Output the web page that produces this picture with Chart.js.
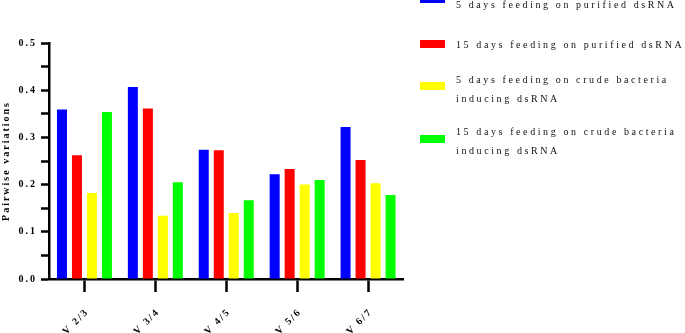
<!DOCTYPE html>
<html>
<head>
<meta charset="utf-8">
<script src="https://cdn.jsdelivr.net/npm/chart.js@4.4.1/dist/chart.umd.min.js"></script>
<style>
  html, body { margin: 0; padding: 0; background: #fff; }
  #wrap { position: relative; width: 685px; height: 333px; overflow: hidden; }
  #chart { position: absolute; left: 0; top: 0; }
  .item { position: absolute; left: 420px; }
  .swatch { position: absolute; left: 0; width: 25px; height: 8px; }
  .label {
    position: absolute; left: 36px; white-space: nowrap;
    font: 10px "Liberation Serif", "Times New Roman", serif;
    letter-spacing: 2.6px; line-height: 19px; color: #111;
  }
</style>
</head>
<body>
<div id="wrap">
  <canvas id="chart" width="685" height="333"></canvas>
  <div id="legend"></div>
</div>
<script>
// categories + series
const categories = ["V 2/3", "V 3/4", "V 4/5", "V 5/6", "V 6/7"];
const seriesNames = [
  ["5 days feeding on purified dsRNA"],
  ["15 days feeding on purified dsRNA"],
  ["5 days feeding on crude bacteria", "inducing dsRNA"],
  ["15 days feeding on crude bacteria", "inducing dsRNA"]
];
const purified5  = [0.359, 0.407, 0.274, 0.222, 0.322];
const purified15 = [0.262, 0.361, 0.273, 0.233, 0.252];
const crude5     = [0.182, 0.134, 0.140, 0.200, 0.203];
const crude15    = [0.354, 0.205, 0.167, 0.210, 0.178];
const seriesColors = ["#0000ff", "#ff0000", "#ffff00", "#00ff00"];
const yTitle = "Pairwise variations";

const allSeries = [purified5, purified15, crude5, crude15];

// legend (html, so the wrapped labels are easy)
const legendTops  = [-5, 35, 70, 122];
const swatchTops  = [0, 4.5, 12, 12.5];
const legendEl = document.getElementById("legend");
seriesNames.forEach((lines, i) => {
  const item = document.createElement("div");
  item.className = "item";
  item.style.top = legendTops[i] + "px";
  item.innerHTML =
    `<div class="swatch" style="top:${swatchTops[i]}px;background:${seriesColors[i]}"></div>` +
    `<div class="label">${lines.join("<br>")}</div>`;
  legendEl.appendChild(item);
});

// spaced-out lettering like the original export
const spacing = {
  id: "spacing",
  beforeUpdate(chart) { chart.ctx.letterSpacing = "2px"; },
  beforeDraw(chart)   { chart.ctx.letterSpacing = "2px"; }
};

const tickFont = { family: "'Liberation Serif', 'Times New Roman', serif", size: 10, weight: "bold" };

new Chart(document.getElementById("chart"), {
  type: "bar",
  data: {
    labels: categories,
    datasets: allSeries.map((vals, i) => ({
      label: seriesNames[i].join(" "),
      data: vals,
      backgroundColor: seriesColors[i],
      borderWidth: 0,
      categoryPercentage: 0.846,
      barPercentage: 0.667
    }))
  },
  options: {
    responsive: false,
    animation: false,
    devicePixelRatio: 1,
    layout: { padding: { top: 43, right: 281.5, left: 0, bottom: 0 } },
    plugins: { legend: { display: false }, tooltip: { enabled: false } },
    scales: {
      x: {
        grid: { offset: false, drawOnChartArea: false, color: "#000", tickLength: 13, tickWidth: 2.5 },
        border: { color: "#000", width: 2.5 },
        ticks: {
          color: "#000", font: tickFont,
          minRotation: 45, maxRotation: 45, padding: 14, labelOffset: 3
        },
        afterFit(scale) { scale.height = 54; }
      },
      y: {
        min: 0, max: 0.5,
        grid: { drawOnChartArea: false, color: "#000", tickLength: 8, tickWidth: 2.5 },
        border: { color: "#000", width: 2.5 },
        ticks: {
          stepSize: 0.05, color: "#000", font: tickFont, padding: 4,
          callback: v => (Math.round(v * 100) % 10 === 0 ? v.toFixed(1) : "")
        },
        title: {
          display: true, text: yTitle, color: "#000", font: tickFont,
          padding: { top: 0, bottom: 0 }
        },
        afterFit(scale) { scale.width = 49; }
      }
    }
  },
  plugins: [spacing]
});
</script>
</body>
</html>
